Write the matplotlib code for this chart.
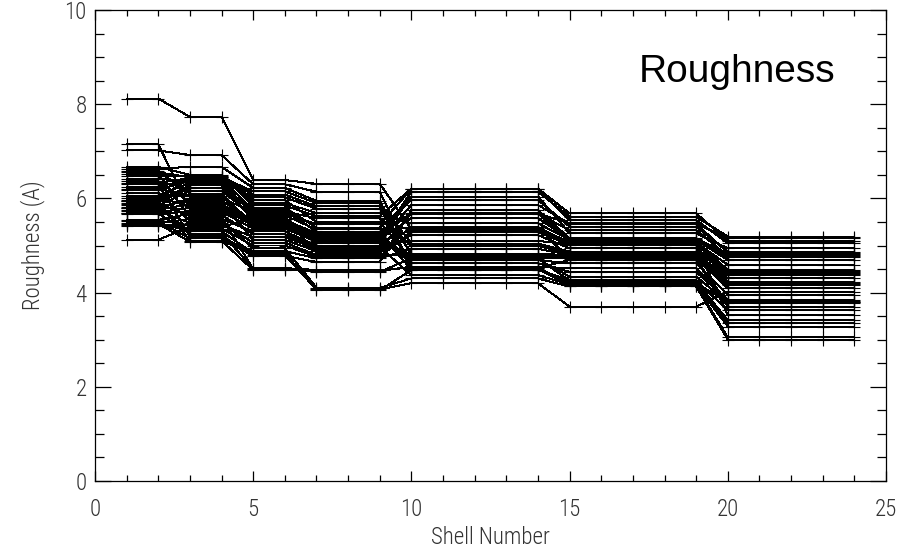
import matplotlib
matplotlib.use("Agg")
import matplotlib.pyplot as plt
from matplotlib.ticker import MultipleLocator
from matplotlib import font_manager

# shell groups: every line keeps one value per group of shells
shell_groups = [[1, 2], [3, 4], [5, 6], [7, 8, 9], [10, 11, 12, 13, 14],
                [15, 16, 17, 18, 19], [20, 21, 22, 23, 24]]

# roughness (A) per line, one list per shell group (line i = i-th entry)
rough_s01_02 = [8.12, 7.15, 7.02, 6.67, 6.63, 6.58, 6.55, 6.52, 6.47, 6.42,
                6.36, 6.33, 6.30, 6.25, 6.21, 6.18, 6.12, 6.06, 6.01, 5.97,
                5.95, 5.94, 5.91, 5.88, 5.85, 5.82, 5.80, 5.79, 5.76, 5.73,
                5.70, 5.68, 5.67, 5.54, 5.51, 5.48, 5.46, 5.43, 5.41, 5.12]
rough_s03_04 = [7.73, 5.76, 6.92, 6.50, 6.67, 6.10, 6.45, 5.60, 6.48, 6.35,
                5.92, 6.43, 5.20, 6.40, 6.05, 6.38, 5.52, 6.33, 5.84, 6.45,
                6.28, 5.10, 6.22, 5.64, 6.16, 5.96, 5.30, 6.00, 5.88, 5.48,
                5.80, 5.25, 5.72, 5.68, 5.15, 5.56, 5.08, 5.44, 5.36, 5.40]
rough_s05_06 = [6.39, 5.46, 6.30, 5.85, 6.22, 5.40, 6.15, 4.50, 5.96, 5.52,
                5.12, 6.08, 4.80, 5.76, 5.48, 6.02, 4.94, 5.68, 5.44, 5.90,
                5.54, 4.48, 5.80, 5.24, 5.64, 5.50, 4.84, 5.72, 5.48, 5.06,
                5.42, 4.52, 5.36, 5.60, 4.78, 5.30, 4.88, 5.18, 5.00, 5.57]
rough_s07_09 = [6.31, 5.16, 6.14, 5.62, 5.95, 5.10, 5.90, 4.44, 5.50, 5.24,
                4.88, 5.83, 4.07, 5.29, 5.20, 5.78, 4.10, 5.45, 5.18, 5.69,
                5.26, 4.46, 5.38, 4.97, 5.34, 5.22, 4.05, 5.58, 5.14, 4.80,
                5.12, 4.48, 5.08, 5.05, 4.65, 5.00, 4.73, 4.93, 4.76, 4.85]
rough_s10_14 = [5.35, 6.14, 4.77, 6.21, 4.52, 5.86, 5.04, 4.73, 4.71, 5.67,
                5.22, 4.50, 4.20, 5.68, 4.62, 4.83, 4.30, 6.20, 4.75, 5.47,
                4.49, 4.55, 5.97, 4.37, 5.38, 4.69, 4.48, 4.99, 5.58, 4.79,
                6.04, 4.53, 5.33, 4.81, 5.75, 5.10, 4.93, 5.68, 5.29, 5.40]
rough_s15_19 = [5.08, 5.61, 4.75, 5.68, 4.20, 5.46, 4.87, 4.25, 4.34, 5.33,
                4.94, 4.15, 3.70, 5.47, 4.44, 4.79, 4.13, 5.54, 4.72, 5.12,
                4.22, 4.52, 5.40, 4.17, 5.06, 4.62, 4.27, 4.83, 5.13, 4.73,
                5.26, 4.69, 5.04, 4.77, 5.15, 5.02, 4.80, 5.10, 5.01, 4.70]
rough_s20_24 = [4.48, 5.19, 4.21, 5.10, 3.80, 4.85, 4.42, 3.63, 3.79, 4.78,
                4.44, 3.05, 4.02, 5.15, 3.84, 4.37, 3.00, 5.05, 4.16, 4.69,
                3.42, 3.82, 4.87, 3.28, 4.59, 3.95, 3.35, 4.30, 4.80, 4.09,
                4.94, 3.70, 4.39, 4.18, 4.83, 4.46, 4.23, 4.76, 3.52, 3.77]

group_values = [rough_s01_02, rough_s03_04, rough_s05_06, rough_s07_09,
                rough_s10_14, rough_s15_19, rough_s20_24]

x_ticks = [0, 5, 10, 15, 20, 25]
y_ticks = [0, 2, 4, 6, 8, 10]

# narrow font for the IDL-like tick labels, if one is around
installed = {f.name for f in font_manager.fontManager.ttflist}
tick_font = 'DejaVu Sans'
for cand in ['Liberation Sans Narrow', 'Roboto Condensed', 'Open Sans Condensed']:
    if cand in installed:
        tick_font = cand
        break
tick_kw = dict(family=tick_font, fontstretch='condensed', fontweight='light',
               fontsize=16.5, color='#333333')

fig = plt.figure(figsize=(9.15, 5.5), dpi=100)
ax = fig.add_axes([95 / 915, 1 - 481 / 550, 791 / 915, 471 / 550])

n_lines = len(rough_s01_02)
for i in range(n_lines):
    xs, ys = [], []
    for shells, vals in zip(shell_groups, group_values):
        for s in shells:
            xs.append(s)
            ys.append(vals[i])
    ax.plot(xs, ys, color='black', lw=0.72, marker='+', ms=9, mew=0.8, antialiased=False)

ax.set_xlim(0, 25)
ax.set_ylim(0, 10)
ax.set_xticks(x_ticks)
ax.set_yticks(y_ticks)
ax.xaxis.set_minor_locator(MultipleLocator(1))
ax.yaxis.set_minor_locator(MultipleLocator(0.5))

ax.tick_params(axis='x', which='major', direction='in', top=True, length=7, width=0.9, pad=12)
ax.tick_params(axis='x', which='minor', direction='in', top=True, length=4, width=0.9)
ax.tick_params(axis='y', which='major', direction='in', right=True, length=11.5, width=0.9, pad=6)
ax.tick_params(axis='y', which='minor', direction='in', right=True, length=6.5, width=0.9)
for lab in ax.get_xticklabels() + ax.get_yticklabels():
    lab.set(**tick_kw)
for sp in ax.spines.values():
    sp.set_linewidth(0.9)

ax.set_xlabel('Shell Number', labelpad=4, **tick_kw)
ax.set_ylabel('Roughness (A)', labelpad=14, **tick_kw)

ax.text(0.9355, 0.847, 'Roughness', transform=ax.transAxes, ha='right', va='baseline',
        family=['Liberation Sans', 'DejaVu Sans'], fontsize=28)

fig.savefig('out.png', dpi=100)
